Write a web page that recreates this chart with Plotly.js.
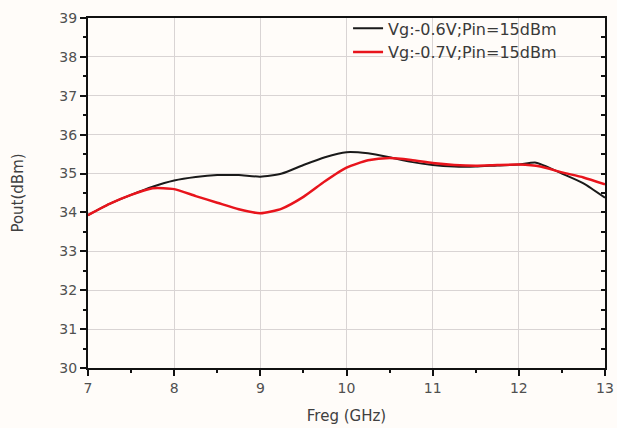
<!DOCTYPE html>
<html>
<head>
<meta charset="utf-8">
<script src="https://cdn.plot.ly/plotly-3.0.1.min.js"></script>
<style>html,body{margin:0;padding:0;background:#fffcf9;}</style>
</head>
<body>
<div id="chart" style="width:617px;height:428px;"></div>
<script>
const freq = [7.0,7.25,7.5,7.75,8.0,8.25,8.5,8.75,9.0,9.25,9.5,9.75,10.0,10.25,10.5,10.75,11.0,11.25,11.5,11.75,12.0,12.2,12.5,12.75,13.0];
const pout06 = [33.93,34.22,34.45,34.66,34.82,34.91,34.96,34.96,34.92,35.0,35.22,35.42,35.55,35.52,35.42,35.3,35.22,35.18,35.18,35.21,35.23,35.28,35.0,34.75,34.38];
const freqB = [7.0,7.25,7.5,7.75,8.0,8.25,8.5,8.75,9.0,9.25,9.5,9.75,10.0,10.25,10.5,10.75,11.0,11.25,11.5,11.75,12.0,12.25,12.5,12.75,13.0];
const pout07 = [33.93,34.22,34.45,34.62,34.6,34.42,34.25,34.08,33.98,34.1,34.4,34.8,35.15,35.34,35.4,35.35,35.27,35.22,35.2,35.22,35.23,35.18,35.03,34.9,34.72];
const names = ['Vg:-0.6V;Pin=15dBm','Vg:-0.7V;Pin=15dBm'];
const xTicks = [7,8,9,10,11,12,13];
const yTicks = [30,31,32,33,34,35,36,37,38,39];

const data = [
  {x: freq, y: pout06, name: names[0], type: 'scatter', mode: 'lines',
   line: {color: '#1a1a1a', width: 2, shape: 'spline', smoothing: 0.6}},
  {x: freqB, y: pout07, name: names[1], type: 'scatter', mode: 'lines',
   line: {color: '#e8141c', width: 2.5, shape: 'spline', smoothing: 0.6}},
  {x: [7], y: [30], yaxis: 'y2', type: 'scatter', mode: 'markers',
   marker: {opacity: 0}, showlegend: false, hoverinfo: 'skip'}
];

const ff = 'DejaVu Sans, Arial, sans-serif';
const tickFont = {family: ff, size: 14, color: '#505050'};
const titleFont = {family: ff, size: 15, color: '#404040'};

const layout = {
  width: 617, height: 428,
  margin: {l: 88, r: 12, t: 17, b: 60},
  paper_bgcolor: '#fffcf9',
  plot_bgcolor: '#fffcf9',
  font: tickFont,
  showlegend: true,
  legend: {x: 0.503, y: 1.016, xanchor: 'left', yanchor: 'top',
    bgcolor: 'rgba(0,0,0,0)', borderwidth: 0,
    font: {family: ff, size: 16, color: '#3a3a3a'},
    tracegroupgap: 0, itemwidth: 30},
  xaxis: {
    range: [7, 13], tickvals: xTicks, ticktext: xTicks.map(String),
    showgrid: true, gridcolor: '#d9d4d4', gridwidth: 1,
    showline: true, linecolor: '#111', linewidth: 2, mirror: true,
    ticks: 'outside', ticklen: 6, tickwidth: 2, tickcolor: '#111',
    minor: {dtick: 0.5, ticks: 'outside', ticklen: 3, tickwidth: 2, tickcolor: '#111', showgrid: false},
    zeroline: false, tickfont: tickFont,
    title: {text: 'Freg (GHz)', font: titleFont, standoff: 16}
  },
  yaxis: {
    range: [30, 39], tickvals: yTicks, ticktext: yTicks.map(String),
    showgrid: true, gridcolor: '#d9d4d4', gridwidth: 1,
    showline: true, linecolor: '#111', linewidth: 2, mirror: true,
    ticks: 'outside', ticklen: 6, tickwidth: 2, tickcolor: '#111',
    minor: {dtick: 0.5, ticks: 'outside', ticklen: 3, tickwidth: 2, tickcolor: '#111', showgrid: false},
    zeroline: false, tickfont: tickFont,
    title: {text: 'Pout(dBm)', font: titleFont, standoff: 32}
  },
  yaxis2: {
    range: [30, 39], overlaying: 'y', side: 'right',
    showgrid: false, showticklabels: false, zeroline: false, showline: false,
    ticks: 'inside', ticklen: 4, tickwidth: 2, tickcolor: '#111', dtick: 0.5, tick0: 30
  }
};

Plotly.newPlot('chart', data, layout, {displayModeBar: false, staticPlot: true});
</script>
</body>
</html>
